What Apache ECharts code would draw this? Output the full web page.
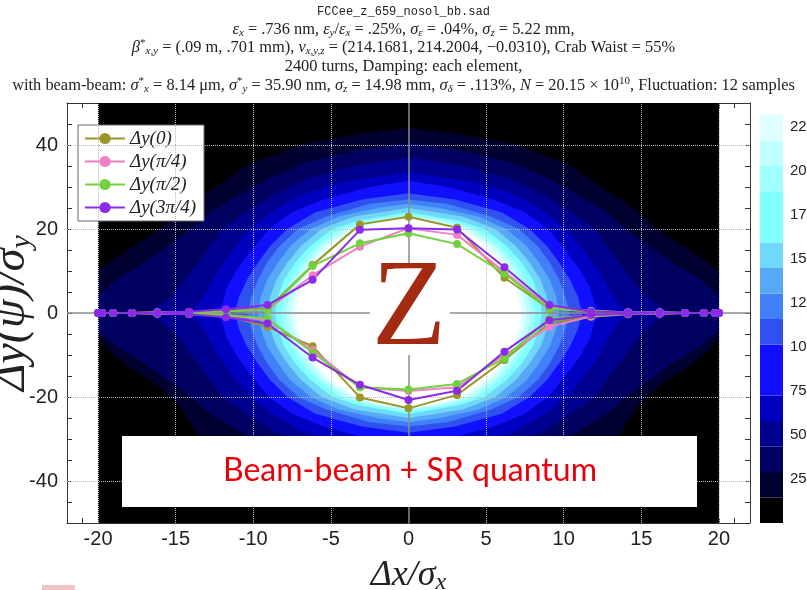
<!DOCTYPE html>
<html><head><meta charset="utf-8">
<script src="https://cdn.jsdelivr.net/npm/echarts@6/dist/echarts.min.js"></script>
<style>html,body{margin:0;padding:0;background:#fff}#c{width:807px;height:590px}</style>
</head><body><div id="c"></div><script>
// ---------- data ----------
const xPositions = [-20,-19.75,-19.02,-17.82,-16.18,-14.14,-11.76,-9.08,-6.18,-3.13,0,3.13,6.18,9.08,11.76,14.14,16.18,17.82,19.02,19.75,20];
const seriesNames = ['Δy(0)','Δy(π/4)','Δy(π/2)','Δy(3π/4)'];
const dy0Upper   = [0,0,0,0,0.1,0.2,0.5,1.0,11.4,21.1,22.9,20.3,8.4,1.0,0.4,0.2,0.1,0,0,0,0];
const dy0Lower   = [0,0,0,0,-0.1,-0.3,-0.6,-3.3,-7.9,-20.1,-22.7,-19.5,-11.2,-2.4,-0.9,-0.3,-0.1,0,0,0,0];
const dyQ1Upper  = [0,0,0,0,0.1,0.2,0.4,0.8,9.0,15.8,20.2,18.6,9.8,1.4,0.4,0.2,0.1,0,0,0,0];
const dyQ1Lower  = [0,0,0,0,-0.1,-0.2,-0.5,-1.7,-8.8,-17.7,-18.6,-17.7,-10.0,-3.3,-0.8,-0.2,-0.1,0,0,0,0];
const dyQ2Upper  = [0,0,0,0,0.1,0.2,0.4,0.7,11.2,16.6,19.0,16.4,9.4,1.1,0.4,0.2,0.1,0,0,0,0];
const dyQ2Lower  = [0,0,0,0,-0.1,-0.2,-0.4,-1.3,-9.4,-17.7,-18.2,-16.9,-10.8,-1.3,-0.6,-0.2,-0.1,0,0,0,0];
const dyQ3Upper  = [0,0,0,0,0.1,0.3,0.9,1.9,7.9,19.8,20.2,19.9,10.9,1.9,0.3,0.2,0.1,0,0,0,0];
const dyQ3Lower  = [0,0,0,0,-0.1,-0.3,-1.0,-2.5,-10.6,-17.1,-20.7,-18.5,-9.2,-1.7,-0.5,-0.2,-0.1,0,0,0,0];
const lineColors = ['#9c9628','#f27fc4','#72d13e','#8a2be8'];

const xTickLabels = [-20,-15,-10,-5,0,5,10,15,20];
const yTickLabels = [-40,-20,0,20,40];
const xGridLines = [-20,-15,-10,-5,5,10,15,20];
const yGridLines = [-40,-20,20,40];

// density contours: [ |y|, half-width in x ] profiles, upper and lower halves
const contourBg = [[0,20],[50,20]];
const contour1Up = [[0,20],[10,20],[14,18.5],[20,16],[25,14.5],[31,12],[35,10.5],[40,7],[42.5,3.5],[44,0]];
const contour1Dn = [[0,20],[6,20],[9,19.3],[13,18],[17,16.2],[22,14.8],[30,13.4],[35,11],[40,7.5],[43,0]];
const contour2  = [[0,20],[4,20],[8,18.8],[12,17],[16,15.5],[20,14],[24,12.8],[28,11],[32,9],[36,6.5],[39,3],[40.5,0]];
const contour3  = [[0,17],[2,16],[5,15],[10,14],[15,13],[20,12],[24,10.5],[28,8.8],[32,6.5],[35,3.5],[37,0]];
const contour4  = [[0,14.5],[2,13.5],[5,13],[10,12.3],[15,11.3],[20,10.2],[24,8.8],[28,7],[31,4.5],[33.5,0]];
const contour5  = [[0,12.5],[2,12],[6,11.7],[10,11.1],[15,10.1],[20,9],[24,7.5],[27,5.5],[30,2.5],[31.5,0]];
const contour6  = [[0,11.2],[4,10.9],[8,10.4],[12,9.7],[16,8.9],[20,7.8],[24,6],[27,3],[28.5,0]];
const contour7  = [[0,10.4],[4,10.1],[8,9.7],[12,9.1],[16,8.3],[20,7.1],[23,5.3],[26,2.5],[27,0]];
const contour8  = [[0,9.7],[4,9.5],[8,9.1],[12,8.4],[16,7.6],[20,6.3],[23,4.5],[25,2],[26,0]];
const contour9  = [[0,9.1],[4,8.9],[8,8.5],[12,7.8],[16,6.9],[20,5.6],[23,3.5],[25,0]];
const contour10 = [[0,8.6],[4,8.4],[8,8],[12,7.3],[16,6.3],[20,4.9],[22,3.2],[24,0]];
const contour11 = [[0,8.2],[4,8],[8,7.6],[12,6.9],[16,5.9],[20,4.4],[22,2.6],[23.5,0]];
const contour12 = [[0,7.9],[4,7.7],[8,7.3],[12,6.6],[16,5.6],[20,4.1],[22,2.1],[23,0]];
const contour13 = [[0,7.6],[4,7.4],[8,7],[12,6.3],[16,5.3],[20,3.7],[22,1.6],[22.6,0]];
const contour14 = [[0,7.3],[4,7.1],[8,6.7],[12,6],[16,5],[20,3.4],[22,1.2],[22.3,0]];
const contourColors = ['#000000','#000030','#000060','#000090','#0000c0','#1010ff','#3050f0','#4080f8','#58a8f8','#70d8f8','#80ffff','#a0ffff','#c0ffff','#e0ffff','#ffffff'];

// colour bar bands [low, high]
const barLows  = [0,14.5,29,43.5,58,72.5,101.5,116,130.5,145,159.5,188.5,203,217.5];
const barHighs = [14.5,29,43.5,58,72.5,101.5,116,130.5,145,159.5,188.5,203,217.5,232];
const barColors = ['#000000','#000030','#000060','#000090','#0000c0','#1010ff','#3050f0','#4080f8','#58a8f8','#70d8f8','#80ffff','#a0ffff','#c0ffff','#e0ffff'];
const barTicks  = [25,50,75,100,125,150,175,200,225];
const barLabels = ['25','50','75','10','12','15','17','20','22'];

// ---------- chart ----------
const contoursUp = [contourBg,contour1Up,contour2,contour3,contour4,contour5,contour6,contour7,contour8,contour9,contour10,contour11,contour12,contour13,contour14];
const contoursDn = [contourBg,contour1Dn,contour2,contour3,contour4,contour5,contour6,contour7,contour8,contour9,contour10,contour11,contour12,contour13,contour14];
function polyPoints(up, dn){
  const pts=[];
  for (const [y,w] of up) pts.push([w,y]);
  for (let k=up.length-1;k>=0;k--) pts.push([-up[k][1],up[k][0]]);
  for (const [y,w] of dn) pts.push([-w,-y]);
  for (let k=dn.length-1;k>=0;k--) pts.push([dn[k][1],-dn[k][0]]);
  return pts;
}
const serif = 'Liberation Serif';
const sans = 'Liberation Sans';
const richT = {
  n:{fontFamily:serif,fontSize:16.4,color:'#222',lineHeight:19},
  i:{fontFamily:serif,fontSize:16.4,fontStyle:'italic',color:'#222',lineHeight:19},
  sb:{fontFamily:serif,fontSize:11,fontStyle:'italic',color:'#222',verticalAlign:'bottom',lineHeight:11},
  sp:{fontFamily:serif,fontSize:11,color:'#222',verticalAlign:'top',lineHeight:11},
  m:{fontFamily:'Liberation Mono',fontSize:12,color:'#222',lineHeight:19}
};
const titleLines = [
  '{m|FCCee_z_659_nosol_bb.sad}',
  '{i|ε}{sb|x}{n| = .736 nm, }{i|ε}{sb|y}{n|/}{i|ε}{sb|x}{n| = .25%, }{i|σ}{sb|ε}{n| = .04%, }{i|σ}{sb|z}{n| = 5.22 mm,}',
  '{i|β}{sp|*}{sb|x,y}{n| = (.09 m, .701 mm), }{i|ν}{sb|x,y,z}{n| = (214.1681, 214.2004, −0.0310), Crab Waist = 55%}',
  '{n|2400 turns, Damping: each element,}',
  '{n|with beam-beam: }{i|σ}{sp|*}{sb|x}{n| = 8.14 μm, }{i|σ}{sp|*}{sb|y}{n| = 35.90 nm, }{i|σ}{sb|z}{n| = 14.98 mm, }{i|σ}{sb|δ}{n| = .113%, }{i|N}{n| = 20.15 × 10}{sp|10}{n|, Fluctuation: 12 samples}'
];
const titleTops = [2,20,38,57,76];

function lineSeries(name, vals, color){
  return {type:'line', name, xAxisIndex:0, yAxisIndex:0, z:10,
    data: xPositions.map((x,k)=>[x,vals[k]]),
    symbol:'circle', symbolSize:8, color,
    lineStyle:{width:2,color}, itemStyle:{color}};
}
const axisCommon = {
  axisLine:{show:true,onZero:false,lineStyle:{color:'#333',width:1}},
  axisTick:{show:true,inside:true,length:5,lineStyle:{color:'#333'}},
  splitLine:{show:false}
};
const option = {
  animation:false,
  backgroundColor:'#fff',
  title: titleLines.map((t,k)=>({text:t,left:'center',top:titleTops[k],padding:0,textStyle:{rich:richT,fontWeight:'normal'}})),
  legend:{data:seriesNames, orient:'vertical', left:78, top:125, padding:[4,8,4,6], itemGap:4, itemWidth:40, itemHeight:14,
    backgroundColor:'#fff', borderColor:'#666', borderWidth:1,
    textStyle:{fontFamily:serif,fontStyle:'italic',fontSize:19,color:'#222'}},
  grid:[{left:67,top:103,width:683,height:420,containLabel:false,outerBoundsMode:'none'},
        {left:760,top:115,width:23,height:408,containLabel:false,outerBoundsMode:'none'}],
  xAxis:[
    Object.assign({type:'value',gridIndex:0,min:-22,max:22,interval:1,position:'bottom',
      axisLabel:{fontFamily:sans,fontSize:20,color:'#222',margin:6,formatter:v=>xTickLabels.includes(v)?String(v):''},
      name:'{i|Δx/σ}{sb|x}',nameLocation:'middle',nameGap:34,nameMoveOverlap:false,
      nameTextStyle:{rich:{i:{fontFamily:serif,fontStyle:'italic',fontSize:36,color:'#222',lineHeight:38},sb:{fontFamily:serif,fontStyle:'italic',fontSize:24,color:'#222',verticalAlign:'bottom',lineHeight:22}}}},axisCommon),
    Object.assign({type:'value',gridIndex:0,min:-22,max:22,interval:1,position:'top',axisLabel:{show:false}},axisCommon),
    {type:'value',gridIndex:1,min:0,max:1,show:false}
  ],
  yAxis:[
    Object.assign({type:'value',gridIndex:0,min:-50,max:50,interval:5,position:'left',
      axisLabel:{fontFamily:sans,fontSize:20,color:'#222',margin:9,formatter:v=>yTickLabels.includes(v)?String(v):''},
      name:'{i|Δy(ψ)/σ}{sb|y}',nameLocation:'middle',nameGap:30,nameRotate:90,nameMoveOverlap:false,
      nameTextStyle:{rich:{i:{fontFamily:serif,fontStyle:'italic',fontSize:46,color:'#222',lineHeight:50},sb:{fontFamily:serif,fontStyle:'italic',fontSize:30,color:'#222',verticalAlign:'bottom',lineHeight:30}}}},axisCommon),
    Object.assign({type:'value',gridIndex:0,min:-50,max:50,interval:5,position:'right',axisLabel:{show:false}},axisCommon),
    {type:'value',gridIndex:1,min:0,max:232,interval:25,position:'right',
      axisLine:{show:false},axisTick:{show:false},splitLine:{show:false},
      axisLabel:{fontFamily:sans,fontSize:15,color:'#222',margin:7,formatter:v=>{const k=barTicks.indexOf(v);return k>=0?barLabels[k]:'';}}}
  ],
  series:[
    {type:'custom', name:'density', xAxisIndex:0, yAxisIndex:0, z:1, silent:true,
      data: contoursUp.map((c,i)=>[i,0]),
      renderItem:(params,api)=>{
        const i=api.value(0);
        return {type:'polygon',shape:{points:polyPoints(contoursUp[i],contoursDn[i]).map(p=>api.coord(p))},style:{fill:contourColors[i]}};
      }},
    {type:'line', name:'grid', xAxisIndex:0, yAxisIndex:0, data:[], silent:true,
      markLine:{silent:true, symbol:['none','none'], z:4, label:{show:false},
        data:[].concat(
          xGridLines.map(v=>({xAxis:v,lineStyle:{type:'dotted',color:'#b8b8b8',width:1}})),
          yGridLines.map(v=>({yAxis:v,lineStyle:{type:'dotted',color:'#b8b8b8',width:1}})),
          [{xAxis:0,lineStyle:{type:'solid',color:'#8c8c8c',width:1.5}},{yAxis:0,lineStyle:{type:'solid',color:'#8c8c8c',width:1.5}}]
        )}},
    lineSeries(seriesNames[0],dy0Upper,lineColors[0]),
    lineSeries(seriesNames[0],dy0Lower,lineColors[0]),
    lineSeries(seriesNames[1],dyQ1Upper,lineColors[1]),
    lineSeries(seriesNames[1],dyQ1Lower,lineColors[1]),
    lineSeries(seriesNames[2],dyQ2Upper,lineColors[2]),
    lineSeries(seriesNames[2],dyQ2Lower,lineColors[2]),
    lineSeries(seriesNames[3],dyQ3Upper,lineColors[3]),
    lineSeries(seriesNames[3],dyQ3Lower,lineColors[3]),
    {type:'custom', name:'colorbar', xAxisIndex:2, yAxisIndex:2, silent:true,
      data: barLows.map((lo,i)=>[i,lo]),
      renderItem:(params,api)=>{
        const i=api.value(0);
        const p0=api.coord([0,barLows[i]]), p1=api.coord([1,barHighs[i]]);
        return {type:'rect',shape:{x:p0[0],y:p1[1],width:p1[0]-p0[0],height:p0[1]-p1[1]},style:{fill:barColors[i]}};
      }}
  ],
  graphic:[
    {type:'rect',z:100,shape:{x:370,y:268,width:80,height:87},style:{fill:'#fff'}},
    {type:'text',z:101,x:409,y:312,style:{text:'Z',font:'normal 122px "Liberation Serif"',fill:'#a52a12',align:'center',verticalAlign:'middle'}},
    {type:'rect',z:100,shape:{x:122,y:436,width:575,height:71},style:{fill:'#fff'}},
    {type:'text',z:101,x:410,y:471,style:{text:'Beam-beam + SR quantum',font:'normal 32px Lato',fill:'#e8000b',align:'center',verticalAlign:'middle'}},
    {type:'rect',z:100,shape:{x:42,y:585,width:33,height:5},style:{fill:'#f3c4c4'}}
  ]
};
const chart = echarts.init(document.getElementById('c'),null,{renderer:'canvas'});
chart.setOption(option);
</script></body></html>
